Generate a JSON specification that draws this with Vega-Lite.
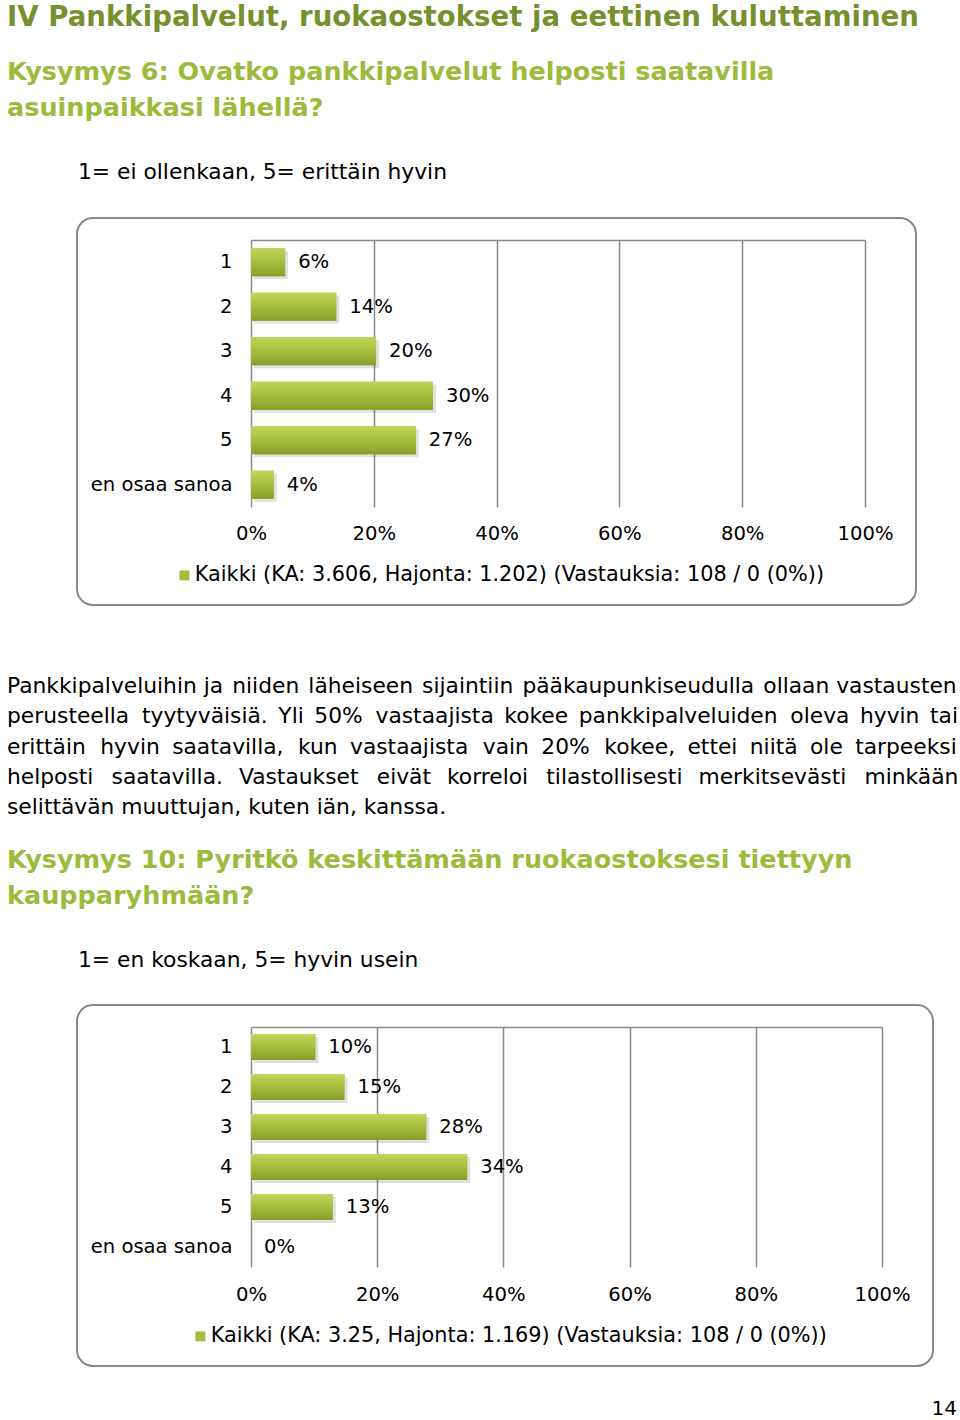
{
  "$schema": "https://vega.github.io/schema/vega-lite/v6.json",
  "padding": {"left": 7, "top": 3, "right": 0, "bottom": 0},
  "datasets": {
    "q6": [
      {"vastaus": "1", "osuus": 0.0556},
      {"vastaus": "2", "osuus": 0.1389},
      {"vastaus": "3", "osuus": 0.2037},
      {"vastaus": "4", "osuus": 0.2963},
      {"vastaus": "5", "osuus": 0.2685},
      {"vastaus": "en osaa sanoa", "osuus": 0.0370}
    ],
    "q10": [
      {"vastaus": "1", "osuus": 0.1019},
      {"vastaus": "2", "osuus": 0.1481},
      {"vastaus": "3", "osuus": 0.2778},
      {"vastaus": "4", "osuus": 0.3426},
      {"vastaus": "5", "osuus": 0.1296},
      {"vastaus": "en osaa sanoa", "osuus": 0}
    ]
  },
  "title": {
    "text": "IV Pankkipalvelut, ruokaostokset ja eettinen kuluttaminen",
    "subtitle": ["Kysymys 6: Ovatko pankkipalvelut helposti saatavilla", "asuinpaikkasi lähellä?"],
    "anchor": "start",
    "frame": "group",
    "dx": -70,
    "font": "DejaVu Sans",
    "fontSize": 27.6,
    "fontWeight": "bold",
    "color": "#76902e",
    "subtitleFont": "DejaVu Sans",
    "subtitleFontSize": 25.5,
    "subtitleFontWeight": "bold",
    "subtitleColor": "#9cbb3c",
    "subtitleLineHeight": 35.5,
    "subtitlePadding": 29,
    "offset": 40
  },
  "spacing": 28,
  "resolve": {"scale": {"color": "independent"}, "legend": {"color": "independent"}},
  "vconcat": [
    {
      "title": {
        "text": [
          "Pankkipalveluihin ja\u200a niiden\u200a läheiseen\u200a sijaintiin\u200a pääkaupunkiseudulla\u200a ollaan vastausten",
          "perusteella\u2006\u200a tyytyväisiä.\u2006 Yli\u2006 50%\u2006\u200a vastaajista\u2006 kokee\u2006 pankkipalveluiden\u2006\u200a oleva\u2006 hyvin\u2006 tai",
          "erittäin\u2005\u200a hyvin\u2005 saatavilla,\u2005\u200a kun\u2005 vastaajista\u2005\u200a vain\u2005 20%\u2005\u200a kokee,\u2005 ettei\u2005 niitä\u2005 ole\u2005 tarpeeksi",
          "helposti\u2005\u2006\u200a saatavilla.\u2005\u2006 Vastaukset\u2005\u2006\u200a eivät\u2005\u2006 korreloi\u2005\u2006\u200a tilastollisesti\u2005\u2006 merkitsevästi\u2005\u2006\u200a minkään",
          "selittävän muuttujan, kuten iän, kanssa."
        ],
        "orient": "bottom",
        "anchor": "start",
        "frame": "group",
        "dx": -70,
        "offset": 70,
        "font": "DejaVu Sans",
        "fontSize": 21.8,
        "fontWeight": "normal",
        "color": "#000000",
        "lineHeight": 30.3
      },
      "resolve": {"scale": {"color": "independent"}, "legend": {"color": "independent"}},
      "vconcat": [
        {
          "width": 839,
          "height": 387,
          "data": {"name": "q6"},
          "title": {
            "text": "1= ei ollenkaan, 5= erittäin hyvin",
            "anchor": "start",
            "frame": "group",
            "dx": 1,
            "offset": 34,
            "font": "DejaVu Sans",
            "fontSize": 21.8,
            "fontWeight": "normal",
            "color": "#000000"
          },
          "encoding": {
            "y": {
              "field": "vastaus", "type": "nominal", "sort": null,
              "scale": {"range": [22, 289], "paddingInner": 0.37, "paddingOuter": 0.185},
              "axis": {"orient": "left", "offset": -174, "domain": false, "ticks": false, "tickSize": 0, "labelPadding": 19, "labelFont": "DejaVu Sans", "labelFontSize": 19.6, "labelColor": "#000000", "labelLimit": 400, "grid": false, "title": null}
            }
          },
          "layer": [
            {
              "mark": {"type": "bar", "color": "#000000", "opacity": 0.12, "xOffset": 3, "yOffset": 3},
              "encoding": {
                "x": {"field": "osuus", "type": "quantitative", "scale": {"domain": [0, 1], "range": [174, 788], "nice": false}, "axis": null}
              }
            },
            {
              "mark": {"type": "bar"},
              "encoding": {
                "x": {"field": "osuus", "type": "quantitative", "scale": {"domain": [0, 1], "range": [174, 788], "nice": false},
                  "axis": {"orient": "bottom", "offset": -98, "values": [0, 0.2, 0.4, 0.6, 0.8, 1], "format": ".0%", "domain": false, "ticks": false, "tickSize": 0, "labelPadding": 17, "labelFont": "DejaVu Sans", "labelFontSize": 19.6, "labelColor": "#000000", "labelFlush": false, "labelOverlap": false, "grid": false, "title": null}},
                "color": {"datum": "Kaikki (KA: 3.606, Hajonta: 1.202) (Vastauksia: 108 / 0 (0%))", "type": "nominal",
                  "scale": {"range": ["#a3bd3e"]},
                  "legend": {"orient": "none", "legendX": 97, "legendY": 347, "title": null, "symbolType": "square", "symbolSize": 100, "symbolStrokeWidth": 0, "labelFont": "DejaVu Sans", "labelFontSize": 20.8, "labelColor": "#000000", "labelLimit": 1000, "labelOffset": 0}}
              }
            },
            {
              "mark": {"type": "bar", "color": {"x1": 0, "y1": 0, "x2": 0, "y2": 1, "gradient": "linear", "stops": [{"offset": 0, "color": "#c0d55a"}, {"offset": 0.45, "color": "#a8c13d"}, {"offset": 1, "color": "#889e2b"}]}},
              "encoding": {
                "x": {"field": "osuus", "type": "quantitative", "scale": {"domain": [0, 1], "range": [174, 788], "nice": false},
                  "axis": {"orient": "top", "offset": -22, "values": [0, 0.2, 0.4, 0.6, 0.8, 1], "domain": true, "domainColor": "#8a8a8a", "domainWidth": 1.5, "labels": false, "ticks": false, "grid": true, "gridColor": "#8a8a8a", "gridWidth": 1.5, "title": null}}
              }
            },
            {
              "mark": {"type": "text", "align": "left", "baseline": "middle", "dx": 13, "font": "DejaVu Sans", "fontSize": 19.6, "color": "#000000"},
              "encoding": {
                "x": {"field": "osuus", "type": "quantitative", "scale": {"domain": [0, 1], "range": [174, 788], "nice": false}, "axis": null},
                "text": {"field": "osuus", "type": "quantitative", "format": ".0%"}
              }
            }
          ],
          "resolve": {"axis": {"x": "independent"}}
        }
      ]
    },
    {
      "title": {
        "text": "14",
        "orient": "bottom",
        "anchor": "end",
        "frame": "bounds",
        "dx": 23,
        "offset": 32,
        "font": "DejaVu Sans",
        "fontSize": 20,
        "fontWeight": "normal",
        "color": "#000000"
      },
      "resolve": {"scale": {"color": "independent"}, "legend": {"color": "independent"}},
      "vconcat": [
        {
          "title": {
            "text": ["Kysymys 10: Pyritkö keskittämään ruokaostoksesi tiettyyn", "kaupparyhmään?"],
            "anchor": "start",
            "frame": "group",
            "dx": -70,
            "offset": 40,
            "font": "DejaVu Sans",
            "fontSize": 25.5,
            "fontWeight": "bold",
            "color": "#9cbb3c",
            "lineHeight": 36
          },
          "resolve": {"scale": {"color": "independent"}, "legend": {"color": "independent"}},
          "vconcat": [
            {
              "width": 856,
              "height": 361,
              "data": {"name": "q10"},
              "title": {
                "text": "1= en koskaan, 5= hyvin usein",
                "anchor": "start",
                "frame": "group",
                "dx": 1,
                "offset": 33,
                "font": "DejaVu Sans",
                "fontSize": 21.8,
                "fontWeight": "normal",
                "color": "#000000"
              },
              "encoding": {
                "y": {
                  "field": "vastaus", "type": "nominal", "sort": null,
                  "scale": {"range": [22, 262], "paddingInner": 0.35, "paddingOuter": 0.175},
                  "axis": {"orient": "left", "offset": -174, "domain": false, "ticks": false, "tickSize": 0, "labelPadding": 19, "labelFont": "DejaVu Sans", "labelFontSize": 19.6, "labelColor": "#000000", "labelLimit": 400, "grid": false, "title": null}
                }
              },
              "layer": [
                {
                  "mark": {"type": "bar", "color": "#000000", "opacity": 0.12, "xOffset": 3, "yOffset": 3},
                  "encoding": {
                    "x": {"field": "osuus", "type": "quantitative", "scale": {"domain": [0, 1], "range": [174, 805], "nice": false}, "axis": null}
                  }
                },
                {
                  "mark": {"type": "bar"},
                  "encoding": {
                    "x": {"field": "osuus", "type": "quantitative", "scale": {"domain": [0, 1], "range": [174, 805], "nice": false},
                      "axis": {"orient": "bottom", "offset": -99, "values": [0, 0.2, 0.4, 0.6, 0.8, 1], "format": ".0%", "domain": false, "ticks": false, "tickSize": 0, "labelPadding": 18, "labelFont": "DejaVu Sans", "labelFontSize": 19.6, "labelColor": "#000000", "labelFlush": false, "labelOverlap": false, "grid": false, "title": null}},
                    "color": {"datum": "Kaikki (KA: 3.25, Hajonta: 1.169) (Vastauksia: 108 / 0 (0%))", "type": "nominal",
                      "scale": {"range": ["#a3bd3e"]},
                      "legend": {"orient": "none", "legendX": 113, "legendY": 321, "title": null, "symbolType": "square", "symbolSize": 100, "symbolStrokeWidth": 0, "labelFont": "DejaVu Sans", "labelFontSize": 20.8, "labelColor": "#000000", "labelLimit": 1000, "labelOffset": 0}}
                  }
                },
                {
                  "mark": {"type": "bar", "color": {"x1": 0, "y1": 0, "x2": 0, "y2": 1, "gradient": "linear", "stops": [{"offset": 0, "color": "#c0d55a"}, {"offset": 0.45, "color": "#a8c13d"}, {"offset": 1, "color": "#889e2b"}]}},
                  "encoding": {
                    "x": {"field": "osuus", "type": "quantitative", "scale": {"domain": [0, 1], "range": [174, 805], "nice": false},
                      "axis": {"orient": "top", "offset": -22, "values": [0, 0.2, 0.4, 0.6, 0.8, 1], "domain": true, "domainColor": "#8a8a8a", "domainWidth": 1.5, "labels": false, "ticks": false, "grid": true, "gridColor": "#8a8a8a", "gridWidth": 1.5, "title": null}}
                  }
                },
                {
                  "mark": {"type": "text", "align": "left", "baseline": "middle", "dx": 13, "font": "DejaVu Sans", "fontSize": 19.6, "color": "#000000"},
                  "encoding": {
                    "x": {"field": "osuus", "type": "quantitative", "scale": {"domain": [0, 1], "range": [174, 805], "nice": false}, "axis": null},
                    "text": {"field": "osuus", "type": "quantitative", "format": ".0%"}
                  }
                }
              ],
              "resolve": {"axis": {"x": "independent"}}
            }
          ]
        }
      ]
    }
  ],
  "config": {
    "font": "DejaVu Sans",
    "view": {"stroke": "#878787", "strokeWidth": 2, "cornerRadius": 16}
  }
}
